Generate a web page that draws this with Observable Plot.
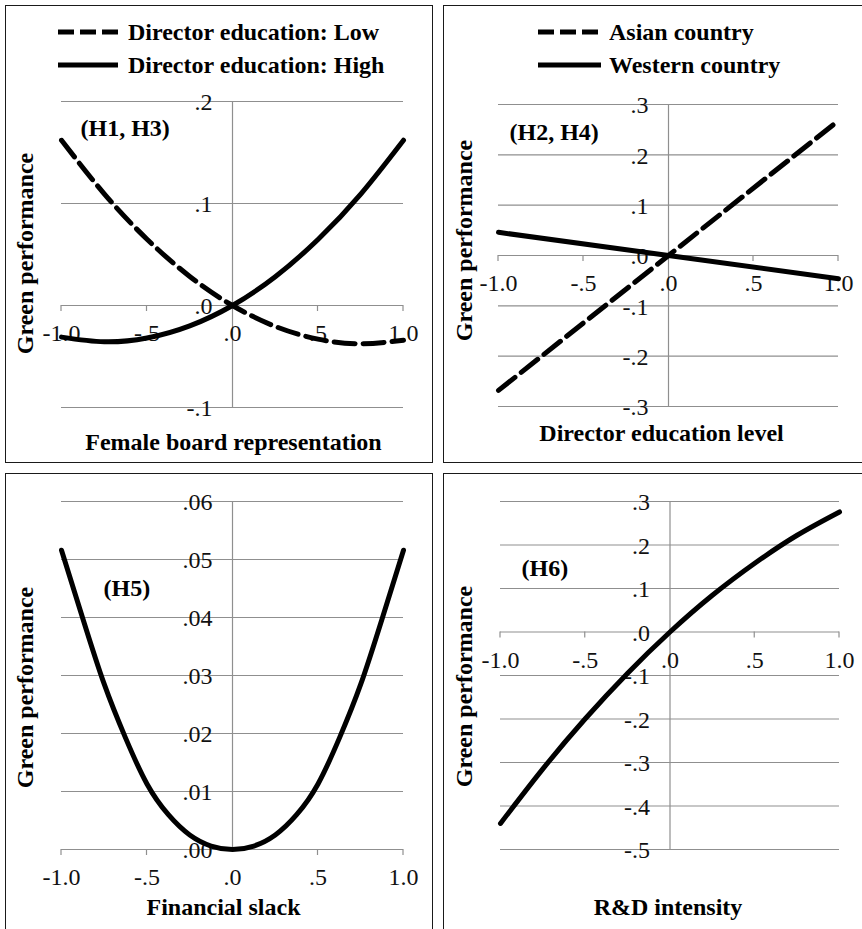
<!DOCTYPE html>
<html>
<head>
<meta charset="utf-8">
<script src="https://cdn.jsdelivr.net/npm/d3@7"></script>
<script src="https://cdn.jsdelivr.net/npm/@observablehq/plot@0.6"></script>
<style>
  body { margin: 0; background: #fff; }
  #page { position: relative; width: 862px; height: 929px; overflow: hidden; background: #fff; }
  .box { position: absolute; border: 1.5px solid #1a1a1a; box-sizing: border-box; }
  .sw { position: absolute; }
</style>
</head>
<body>
<div id="page"></div>
<script>
// ---------------- data ----------------
const xTicks = [-1, -0.5, 0, 0.5, 1];
const xTickLabels = ["-1.0", "-.5", ".0", ".5", "1.0"];
const yTitle = "Green performance";

// Panel 1 (H1, H3)
const p1X = [-1, -0.75, -0.5, -0.25, 0, 0.25, 0.5, 0.75, 1];
const p1Low = [0.162, 0.1095, 0.065, 0.0285, 0, -0.0205, -0.033, -0.0375, -0.034];
const p1High = [-0.031, -0.0356, -0.0319, -0.020, 0, 0.0282, 0.0647, 0.1092, 0.162];
const p1Series = ["Director education: Low", "Director education: High"];
const p1YTicks = [-0.1, 0, 0.1, 0.2];
const p1YLabels = ["-.1", ".0", ".1", ".2"];
const p1XTitle = "Female board representation";
const p1Note = "(H1, H3)";

// Panel 2 (H2, H4)
const p2X = [-1, 0, 1];
const p2Asian = [-0.268, 0, 0.268];
const p2Western = [0.046, 0, -0.046];
const p2Series = ["Asian country", "Western country"];
const p2YTicks = [-0.3, -0.2, -0.1, 0, 0.1, 0.2, 0.3];
const p2YLabels = ["-.3", "-.2", "-.1", ".0", ".1", ".2", ".3"];
const p2XTitle = "Director education level";
const p2Note = "(H2, H4)";

// Panel 3 (H5)
const p3X = [-1, -0.875, -0.75, -0.625, -0.5, -0.375, -0.25, -0.125, 0, 0.125, 0.25, 0.375, 0.5, 0.625, 0.75, 0.875, 1];
const p3Y = [0.0516, 0.0398, 0.0285, 0.0192, 0.0113, 0.0060, 0.0025, 0.0006, 0, 0.0006, 0.0025, 0.0060, 0.0113, 0.0192, 0.0285, 0.0398, 0.0516];
const p3YTicks = [0, 0.01, 0.02, 0.03, 0.04, 0.05, 0.06];
const p3YLabels = [".00", ".01", ".02", ".03", ".04", ".05", ".06"];
const p3XTitle = "Financial slack";
const p3Note = "(H5)";

// Panel 4 (H6)
const p4X = [-1, -0.75, -0.5, -0.25, 0, 0.25, 0.5, 0.75, 1];
const p4Y = [-0.44, -0.3146, -0.1995, -0.0946, 0, 0.0844, 0.158, 0.2224, 0.276];
const p4YTicks = [-0.5, -0.4, -0.3, -0.2, -0.1, 0, 0.1, 0.2, 0.3];
const p4YLabels = ["-.5", "-.4", "-.3", "-.2", "-.1", ".0", ".1", ".2", ".3"];
const p4XTitle = "R&D intensity";
const p4Note = "(H6)";

// ---------------- font selection ----------------
function pickFont(cands) {
  const c = document.createElement("canvas").getContext("2d");
  const s = "Director education: Low 0123456789 WMgq";
  for (const f of cands) {
    for (const base of ["monospace", "sans-serif"]) {
      c.font = `24px ${base}`; const w0 = c.measureText(s).width;
      c.font = `24px "${f}", ${base}`; const w1 = c.measureText(s).width;
      if (Math.abs(w0 - w1) > 0.5) return f;
    }
  }
  return "serif";
}
const chosen = pickFont(["Liberation Serif", "Tinos", "Times New Roman", "Nimbus Roman", "Noto Serif", "DejaVu Serif"]);
const FONT = chosen === "serif" ? "serif" : `"${chosen}", serif`;
function measure(text, weight) {
  const c = document.createElement("canvas").getContext("2d");
  c.font = `${weight} 24px ${FONT}`;
  return c.measureText(text).width;
}
const BOLD_SIZE = Math.min(24, 24 * 300 / measure("Female board representation", "bold"));
const TICK_SIZE = Math.min(24, 24 * 38 / measure("-1.0", "normal"));

// ---------------- styles ----------------
const GRAY = "#8f8f8f";
const DASH_LEGEND = "16,6";
const DASH_LINE = "21,8";
const LW = 5;

const page = document.getElementById("page");
page.style.fontFamily = FONT;

function box(left, top, width, height) {
  const d = document.createElement("div");
  d.className = "box";
  Object.assign(d.style, {left: left + "px", top: top + "px", width: width + "px", height: height + "px"});
  page.appendChild(d);
}

function legendItem(swLeft, swWidth, textLeft, cy, label, dashed) {
  const ns = "http://www.w3.org/2000/svg";
  const svg = document.createElementNS(ns, "svg");
  svg.setAttribute("class", "sw");
  svg.setAttribute("width", swWidth);
  svg.setAttribute("height", 10);
  svg.style.left = swLeft + "px";
  svg.style.top = (cy - 5) + "px";
  const ln = document.createElementNS(ns, "line");
  ln.setAttribute("x1", 0); ln.setAttribute("x2", swWidth);
  ln.setAttribute("y1", 5); ln.setAttribute("y2", 5);
  ln.setAttribute("stroke", "#000");
  ln.setAttribute("stroke-width", LW);
  if (dashed) ln.setAttribute("stroke-dasharray", DASH_LEGEND);
  svg.appendChild(ln);
  page.appendChild(svg);
  const ts = document.createElementNS(ns, "svg");
  ts.setAttribute("class", "sw");
  ts.setAttribute("width", 320);
  ts.setAttribute("height", 34);
  ts.style.left = textLeft + "px";
  ts.style.top = (cy - 17) + "px";
  const tx = document.createElementNS(ns, "text");
  tx.setAttribute("x", 0);
  tx.setAttribute("y", 17 + BOLD_SIZE * 0.33);
  tx.setAttribute("font-family", FONT);
  tx.setAttribute("font-size", BOLD_SIZE);
  tx.setAttribute("font-weight", "bold");
  tx.textContent = label;
  ts.appendChild(tx);
  page.appendChild(ts);
}

function panel(cfg) {
  const {left, top, width, height, margin, yDomain, yTicks, yLabels, lines,
         xTitle, xt, yt, note, nt} = cfg;
  const tickMarks = (index, {x, y}) => {
    const g = d3.create("svg:g").attr("stroke", GRAY).attr("stroke-width", 1.2);
    for (const t of xTicks) {
      if (t === 0) continue;
      g.append("line").attr("x1", x(t)).attr("x2", x(t)).attr("y1", y(0)).attr("y2", y(0) + 6);
    }
    return g.node();
  };
  const lineMarks = lines.map(s => Plot.line(
    s.xs.map((xv, i) => ({x: xv, y: s.ys[i]})),
    {x: "x", y: "y", curve: s.curve || "natural", stroke: "#000", strokeWidth: LW,
     strokeDasharray: s.dashed ? DASH_LINE : null, strokeLinejoin: "round"}
  ));
  const chart = Plot.plot({
    width, height,
    marginTop: margin[0], marginRight: margin[1], marginBottom: margin[2], marginLeft: margin[3],
    x: {domain: [-1, 1], axis: null},
    y: {domain: yDomain, axis: null},
    style: {fontFamily: FONT, fontSize: TICK_SIZE + "px", background: "transparent", color: "#000", overflow: "visible"},
    marks: [
      Plot.ruleY(yTicks, {stroke: GRAY, strokeWidth: 1.2}),
      Plot.ruleX([0], {stroke: GRAY, strokeWidth: 1.2}),
      tickMarks,
      Plot.text(yTicks, {x: 0, y: d => d, text: (d, i) => yLabels[i], textAnchor: "end", lineAnchor: "middle",
                         dx: -20, dy: 1, fontSize: TICK_SIZE, fill: "#111"}),
      Plot.text(xTicks, {x: d => d, y: 0, text: (d, i) => xTickLabels[i], textAnchor: "middle", lineAnchor: "middle",
                         dy: 28, fontSize: TICK_SIZE, fill: "#111"}),
      ...lineMarks,
      Plot.text([xTitle], {frameAnchor: "bottom", text: d => d, textAnchor: "middle", lineAnchor: "middle",
                           dx: xt[0], dy: xt[1], fontWeight: "bold", fontSize: BOLD_SIZE}),
      Plot.text([yTitle], {frameAnchor: "left", text: d => d, rotate: -90, textAnchor: "middle", lineAnchor: "middle",
                           dx: yt[0], dy: yt[1], fontWeight: "bold", fontSize: BOLD_SIZE}),
      Plot.text([note], {frameAnchor: "top-left", text: d => d, textAnchor: "start", lineAnchor: "middle",
                         dx: nt[0], dy: nt[1], fontWeight: "bold", fontSize: BOLD_SIZE})
    ]
  });
  chart.style.position = "absolute";
  chart.style.left = left + "px";
  chart.style.top = top + "px";
  page.appendChild(chart);
}

// panel borders
box(5, 5, 428, 458);
box(443, 5, 440, 458);
box(5, 473, 428, 470);
box(443, 473, 440, 470);

panel({
  left: 5, top: 5, width: 428, height: 458, margin: [96, 30, 56, 56],
  yDomain: [-0.1, 0.2], yTicks: p1YTicks, yLabels: p1YLabels,
  lines: [{xs: p1X, ys: p1Low, dashed: true}, {xs: p1X, ys: p1High, dashed: false}],
  xTitle: p1XTitle, xt: [1, 35], yt: [-36, -1], note: p1Note, nt: [19, 27]
});
panel({
  left: 443, top: 5, width: 419, height: 458, margin: [99, 24, 57, 55],
  yDomain: [-0.3, 0.3], yTicks: p2YTicks, yLabels: p2YLabels,
  lines: [{xs: p2X, ys: p2Asian, dashed: true, curve: "linear"}, {xs: p2X, ys: p2Western, dashed: false, curve: "linear"}],
  xTitle: p2XTitle, xt: [-7, 27], yt: [-34, -15], note: p2Note, nt: [11, 28]
});
panel({
  left: 5, top: 473, width: 428, height: 456, margin: [28, 30, 80, 56],
  yDomain: [0, 0.06], yTicks: p3YTicks, yLabels: p3YLabels,
  lines: [{xs: p3X, ys: p3Y, dashed: false}],
  xTitle: p3XTitle, xt: [-9, 58], yt: [-36, 12], note: p3Note, nt: [42, 87]
});
panel({
  left: 443, top: 473, width: 419, height: 456, margin: [28, 23, 80, 57],
  yDomain: [-0.5, 0.3], yTicks: p4YTicks, yLabels: p4YLabels,
  lines: [{xs: p4X, ys: p4Y, dashed: false}],
  xTitle: p4XTitle, xt: [-2, 58], yt: [-36, 11], note: p4Note, nt: [21, 67]
});

// legends
legendItem(58, 60, 128, 32, p1Series[0], true);
legendItem(58, 60, 128, 65, p1Series[1], false);
legendItem(538, 63, 609, 32, p2Series[0], true);
legendItem(538, 63, 609, 65, p2Series[1], false);
</script>
</body>
</html>
